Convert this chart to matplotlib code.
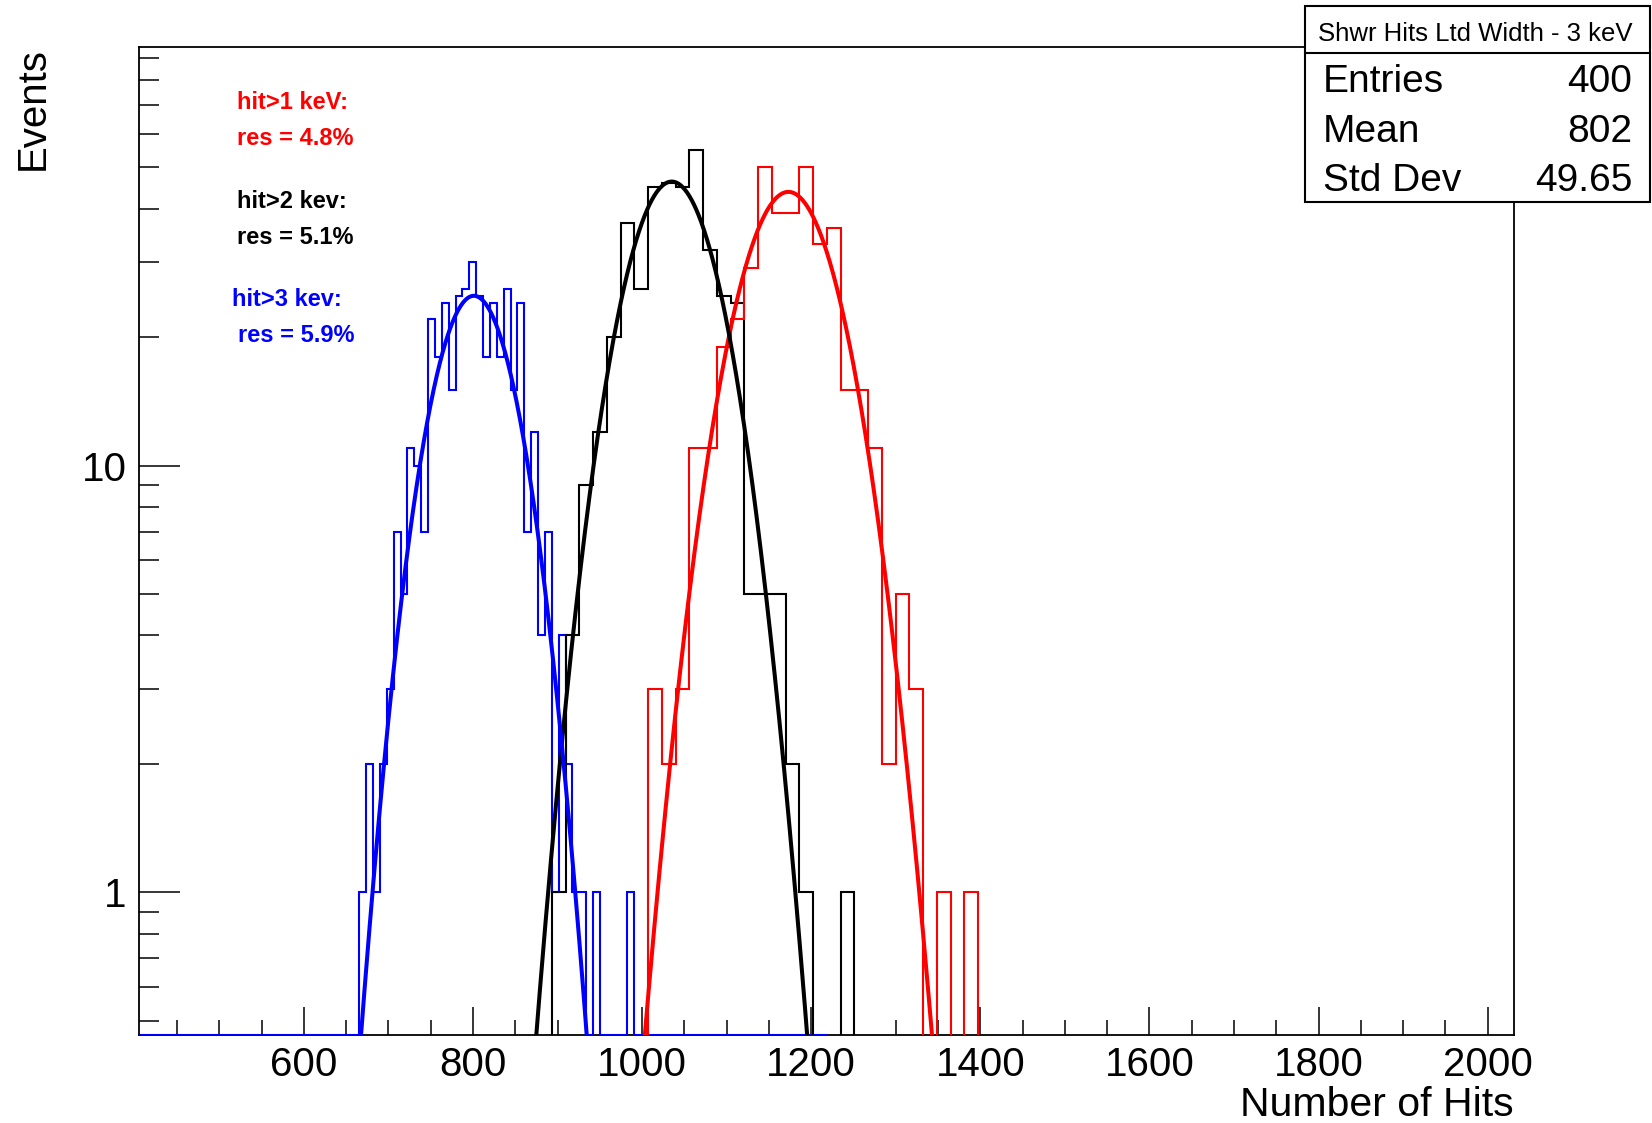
import numpy as np
import matplotlib
matplotlib.use("Agg")
import matplotlib.pyplot as plt
from matplotlib.patches import Rectangle
from matplotlib.lines import Line2D

plt.rcParams['font.family'] = ['Liberation Sans', 'DejaVu Sans']

# frame / histogram x range
x_lo, x_hi = 405.3, 2031.5
n_fine = 200      # 3 keV histogram binning
n_coarse = 100    # 1 keV and 2 keV histogram binning
y_lo, y_hi = 0.4642, 95.5

# hit > 3 keV (blue), counts start at fine bin 32
blue_first = 32
blue_counts = [1, 2, 1, 2, 3, 7, 5, 11, 10, 7, 22, 18, 24, 15, 25, 26, 30, 25, 18, 24,
               18, 26, 15, 24, 7, 12, 4, 7, 1, 4, 2, 1, 1, 0, 1, 0, 0, 0, 0, 1]
# hit > 2 keV (black), counts start at coarse bin 30
black_first = 30
black_counts = [1, 4, 9, 12, 20, 37, 26, 45, 46, 45, 55, 32, 25, 24, 5, 5, 5, 2, 1, 0, 0, 1]
# hit > 1 keV (red), counts start at coarse bin 37
red_first = 37
red_counts = [3, 2, 3, 11, 11, 19, 22, 29, 50, 39, 39, 50, 33, 36, 15, 15, 11, 2, 5, 3, 0, 1, 0, 1]

# gaussian fits (constant, mean, resolution sigma/mean)
fit_labels = ['hit>1 keV:', 'hit>2 kev:', 'hit>3 kev:']
fit_res = [4.8, 5.1, 5.9]
fit_const = [43.8, 46.3, 25.0]
fit_mean = [1173, 1035, 801]
colors = ['#ff0000', '#000000', '#0000ff']

stats_title = 'Shwr Hits Ltd Width - 3 keV'
stats_labels = ['Entries', 'Mean', 'Std Dev']
stats_values = ['400', '802', '49.65']

W, H = 1652, 1123


def fx(px):
    return px / W


def fy(py):
    return 1 - py / H


def full_hist(first, counts, n, floor):
    arr = np.zeros(n)
    arr[first:first + len(counts)] = counts
    arr[arr == 0] = floor
    return arr


fig = plt.figure(figsize=(W / 100, H / 100), dpi=100)
ax = fig.add_axes([fx(139.3), fy(1034.6), fx(1514.3 - 139.3), (1034.6 - 47.4) / H])
ax.set_yscale('log')

fine_edges = np.linspace(x_lo, x_hi, n_fine + 1)
coarse_edges = np.linspace(x_lo, x_hi, n_coarse + 1)

# blue zero bins run along the bottom of the frame in the first half
blue_full = full_hist(blue_first, blue_counts, n_fine, y_lo)[:100]
ax.stairs(blue_full, fine_edges[:101], color=colors[2], lw=1.5, zorder=3)
black_full = full_hist(black_first, black_counts, n_coarse, 1e-3)
ax.stairs(black_full, coarse_edges, color=colors[1], lw=1.5, zorder=3)
red_full = full_hist(red_first, red_counts, n_coarse, 1e-3)
ax.stairs(red_full, coarse_edges, color=colors[0], lw=1.5, zorder=3)

xs = np.linspace(x_lo, x_hi, 3000)
for c, m, r, col in zip(fit_const, fit_mean, fit_res, colors):
    s = m * r / 100
    ax.plot(xs, c * np.exp(-0.5 * ((xs - m) / s) ** 2), color=col, lw=2.9, zorder=4)

ax.set_xlim(x_lo, x_hi)
ax.set_ylim(y_lo, y_hi)

ax.set_xticks(np.arange(600, 2001, 200))
ax.set_xticks(np.arange(450, 2031, 50), minor=True)
ax.set_yticks([1, 10])
ax.set_yticklabels(['1', '10'])
ax.set_yticks([0.5, 0.6, 0.7, 0.8, 0.9] + list(range(2, 10)) + list(range(20, 100, 10)), minor=True)
ax.yaxis.set_minor_formatter(plt.NullFormatter())

ax.tick_params(axis='both', which='both', direction='in', top=False, right=False,
               width=1.1, labelsize=29)
ax.tick_params(axis='x', which='major', length=20, pad=8)
ax.tick_params(axis='x', which='minor', length=10.8)
ax.tick_params(axis='y', which='major', length=29.5, pad=9)
ax.tick_params(axis='y', which='minor', length=14.4)
for sp in ax.spines.values():
    sp.set_linewidth(1.3)

fig.text(fx(33), fy(47), 'Events', rotation=90, ha='center', va='top', fontsize=29)
fig.text(fx(1514), fy(1105), 'Number of Hits', ha='right', va='center', fontsize=29.5)

# resolution annotations
ann_y = [(102.7, 138.3), (201.7, 237.3), (299.3, 336.0)]
ann_x = [(237.3, 237.3), (237.3, 237.3), (232.3, 238.3)]
for lab, r, col, (y1, y2), (x1, x2) in zip(fit_labels, fit_res, colors, ann_y, ann_x):
    fig.text(fx(x1), fy(y1), lab, color=col, fontsize=17, fontweight='bold', ha='left', va='center')
    fig.text(fx(x2), fy(y2), 'res = %.1f%%' % r, color=col, fontsize=17, fontweight='bold',
             ha='left', va='center')

# stats box
bx0, bx1, by0, by1, bh = 1305, 1650, 6, 202, 53.3
fig.add_artist(Rectangle((fx(bx0), fy(by1)), (bx1 - bx0) / W, (by1 - by0) / H,
                         transform=fig.transFigure, facecolor='white', edgecolor='black',
                         lw=1.5, zorder=10))
fig.add_artist(Line2D([fx(bx0), fx(bx1)], [fy(bh), fy(bh)], transform=fig.transFigure,
                      color='black', lw=1.5, zorder=11))
fig.text(fx(1475.5), fy(34), stats_title, ha='center', va='center', fontsize=18.5, zorder=12)
for lab, val, yy in zip(stats_labels, stats_values, [82, 131.5, 181.5]):
    fig.text(fx(1323), fy(yy), lab, ha='left', va='center', fontsize=28, zorder=12)
    fig.text(fx(1632), fy(yy), val, ha='right', va='center', fontsize=28, zorder=12)

fig.savefig('out.png', dpi=100)
